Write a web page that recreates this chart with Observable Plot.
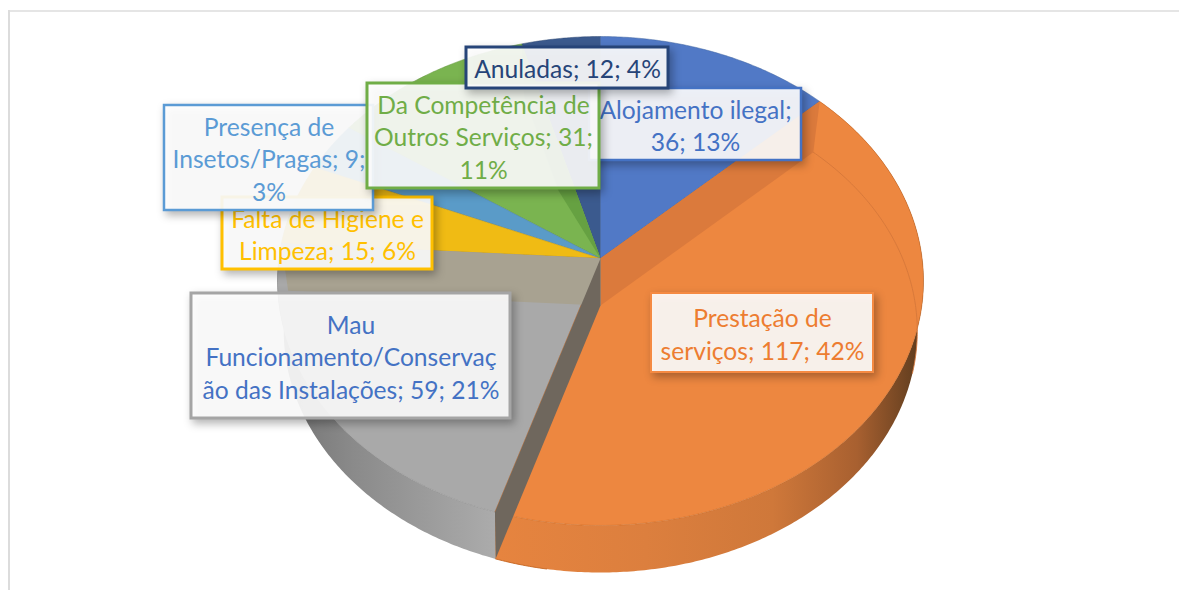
<!DOCTYPE html>
<html>
<head>
<meta charset="utf-8">
<script src="https://cdn.jsdelivr.net/npm/d3@7"></script>
<script src="https://cdn.jsdelivr.net/npm/@observablehq/plot@0.6"></script>
<style>
html,body{margin:0;padding:0;background:#fff;overflow:hidden}
svg{display:block}
</style>
</head>
<body>
<div id="chart"></div>
<script>
// ---- data ----
const categories = ["Alojamento ilegal","Prestação de serviços","Mau Funcionamento/Conservação das Instalações","Falta de Higiene e Limpeza","Presença de Insetos/Pragas","Da Competência de Outros Serviços","Anuladas"];
const values = [36,117,59,15,9,31,12];
const percents = [13,42,21,6,3,11,4];
const labelLines = [
  ["Alojamento ilegal;","36; 13%"],
  ["Prestação de","serviços; 117; 42%"],
  ["Mau","Funcionamento/Conservaç","ão das Instalações; 59; 21%"],
  ["Falta de Higiene e","Limpeza; 15; 6%"],
  ["Presença de","Insetos/Pragas; 9;","3%"],
  ["Da Competência de","Outros Serviços; 31;","11%"],
  ["Anuladas; 12; 4%"]
];

// ---- styles ----
const topColors = ["#5179c6","#ed8740","#a9a9a9","#f0bb14","#5a9bc8","#7ab450","#3b5a8e"];
const edgeColors = ["#41659f","#c5641f","#8b8b8b","#c79a10","#4a82aa","#5f9339","#2c4670"];
const textColors = ["#4472c4","#ed7d31","#4472c4","#ffc000","#5b9bd5","#70ad47","#264478"];
const boxStrokes = ["#4472c4","#f58a42","#a5a5a5","#ffc000","#5b9bd5","#70ad47","#264478"];
// label layout: [left, top, right, bottom, stroke width]
const boxes = [
  [589,88,801,160,2.5],
  [651,293,873,372,2],
  [191,293,510,418,3],
  [222,197,432,269,3],
  [164,105,373,210,2.5],
  [367,83,599,188,3],
  [466,47,668,88,3]
];
const drawOrder = [1,2,0,3,4,5,6];
const faceOrder = [6,5,"wall",4,3,2,0,1];

// ---- projected geometry of the 3D disc ----
const topFace = {cx:600, cy:258, a:321.6, b:242.4, k:0.092};
const baseFace = {cx:600, cy:305, a:315, b:238.7, k:0.106};
const project = (f, t) => {
  const u = Math.sin(t), v = Math.cos(t), w = 1 + f.k * v;
  return {x: f.cx + f.a * u / w, y: f.cy - f.b * v / w};
};
const rim = (f, t0, t1) => {
  const n = Math.max(2, Math.ceil(Math.abs(t1 - t0) / 0.01));
  return d3.range(n + 1).map(i => project(f, t0 + (t1 - t0) * i / n));
};
const arcs = d3.pie().sort(null)(values);
const apex = f => ({x: f.cx, y: f.cy});
const face = s => [apex(topFace), ...rim(topFace, s.startAngle, s.endAngle), apex(topFace)];
const side = s => [...rim(topFace, s.startAngle, s.endAngle), ...rim(baseFace, s.endAngle, s.startAngle)];
const cutWall = t => [apex(topFace), project(topFace, t), project(baseFace, t), apex(baseFace)];
const slimWall = (t, f) => {
  const p = project(baseFace, t), q = apex(baseFace);
  return [apex(topFace), project(topFace, t), p, {x: q.x + (p.x - q.x) * f, y: q.y + (p.y - q.y) * f}];
};
const poly = (pts, fill, o = {}) => Plot.line(pts, {x:"x", y:"y", fill, stroke:"none", curve:"linear", ...o});

const gradient = (id, x1, x2, stops) => {
  const g = d3.create("svg:linearGradient").attr("id", id).attr("gradientUnits","userSpaceOnUse")
    .attr("x1", x1).attr("x2", x2).attr("y1", 0).attr("y2", 0);
  stops.forEach(([o, c]) => g.append("stop").attr("offset", o).attr("stop-color", c));
  return g.node();
};
const defsMark = () => {
  const d = d3.create("svg:defs");
  d.append(() => gradient("sideOrange", 497, 920, [[0,"#e6843f"],[0.35,"#dc7f3e"],[0.65,"#cf783a"],[0.85,"#a86030"],[1,"#5e3c1e"]]));
  d.append(() => gradient("sideGrey", 290, 497, [[0,"#767676"],[0.3,"#8a8a8a"],[1,"#acacac"]]));
  return d.node();
};

const marks = [defsMark];
marks.push(Plot.ruleY([10.5], {x1:8, x2:1179, stroke:"#dcdcdc", strokeWidth:1.5}));
marks.push(Plot.ruleX([8.5], {y1:10, y2:590, stroke:"#dcdcdc", strokeWidth:2}));

// outer side walls
marks.push(poly(side(arcs[2]), "url(#sideGrey)"));
marks.push(poly(side(arcs[1]), "url(#sideOrange)"));
// top faces, with the green cut wall seen beneath the neighbouring faces
faceOrder.forEach(i => {
  if (i === "wall") marks.push(poly(slimWall(arcs[6].startAngle, 0.55), "#66a142"));
  else marks.push(poly(face(arcs[i]), topColors[i], {stroke:edgeColors[i], strokeWidth:0.5}));
});
// cut walls seen through the translucent top
marks.push(poly(cutWall(arcs[1].startAngle), "#db7a3c"));
marks.push(poly(cutWall(arcs[3].startAngle), "#a8a291"));
marks.push(poly(cutWall(arcs[2].startAngle), "#6f675d"));
// far rim of the base seen through the top
marks.push(Plot.line(rim(baseFace, arcs[1].startAngle, 1.85), {x:"x", y:"y", stroke:"#d5773a", strokeWidth:0.9, curve:"linear"}));
marks.push(Plot.line(rim(baseFace, arcs[1].endAngle - 0.15, arcs[1].endAngle), {x:"x", y:"y", stroke:"#c5641f", strokeWidth:0.9, curve:"linear"}));

// labels
drawOrder.forEach(i => {
  const [l, t, r, b, sw] = boxes[i];
  marks.push(Plot.rect([i], {x1:() => l, x2:() => r, y1:() => t, y2:() => b, fill:"#fff", fillOpacity:0.9,
    stroke:boxStrokes[i], strokeWidth:sw}));
  marks.push(Plot.text([labelLines[i].join("\n")], {x:() => (l + r) / 2, y:() => (t + b) / 2, text:d => d,
    fill:textColors[i], fontSize:24.6, lineHeight:1.325, fontFamily:"Lato", textAnchor:"middle", lineAnchor:"middle"}));
});

const chart = Plot.plot({
  width:1179, height:590, margin:0,
  x:{domain:[0,1179], range:[0,1179], axis:null},
  y:{domain:[0,590], range:[0,590], axis:null},
  style:{background:"transparent", overflow:"visible"},
  marks
});
chart.querySelectorAll("rect").forEach(r => { r.style.filter = "drop-shadow(3px 4px 4px rgba(0,0,0,.32))"; });
document.getElementById("chart").append(chart);
</script>
</body>
</html>
